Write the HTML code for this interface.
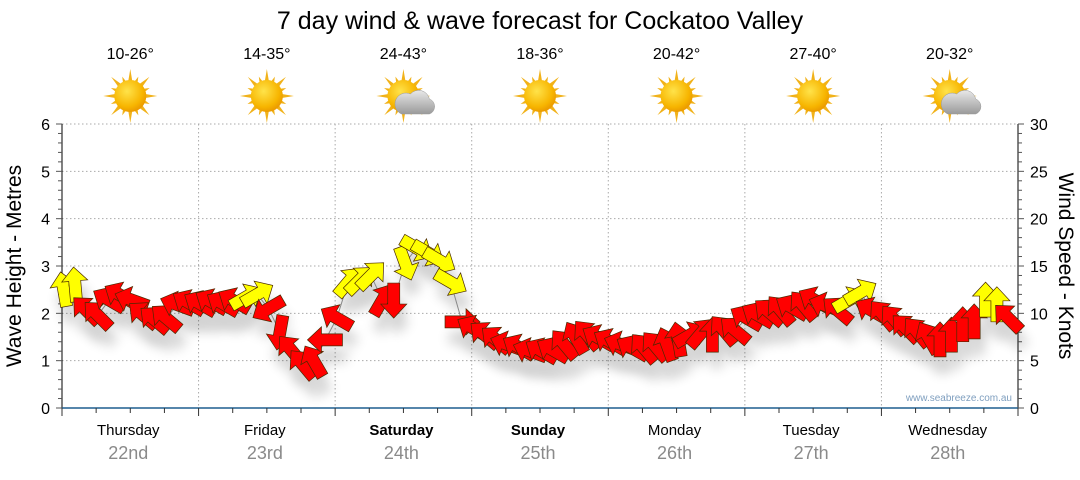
<!DOCTYPE html>
<html><head><meta charset="utf-8"><style>
body{margin:0;background:#fff;font-family:"Liberation Sans",sans-serif}
svg text{font-family:"Liberation Sans",sans-serif}
</style></head><body>
<svg id="c" width="1080" height="475" viewBox="0 0 1080 475">
<defs>
<radialGradient id="sg" cx="0.4" cy="0.35" r="0.7"><stop offset="0" stop-color="#ffe34a"/><stop offset="0.7" stop-color="#f7b500"/><stop offset="1" stop-color="#e89400"/></radialGradient>
<linearGradient id="cg" x1="0" y1="0" x2="0" y2="1"><stop offset="0" stop-color="#e8e8e8"/><stop offset="1" stop-color="#9a9a9a"/></linearGradient>
<filter id="sh" x="-50%" y="-50%" width="200%" height="200%"><feGaussianBlur stdDeviation="6"/></filter>
</defs>
<text x="540" y="29" font-size="25" text-anchor="middle" fill="#000">7 day wind &amp; wave forecast for Cockatoo Valley</text>
<g id="grid"></g>
<g id="icons"></g>
<g id="shadows" opacity="0.18"></g>
<polyline id="trend" fill="none" stroke="#888" stroke-width="1"/>
<g id="arrows"></g>
<text x="1012" y="401" font-size="10" text-anchor="end" fill="#7f9fbf">www.seabreeze.com.au</text>
<text transform="translate(21,266) rotate(-90)" font-size="21" text-anchor="middle">Wave Height - Metres</text>
<text transform="translate(1059,266) rotate(90)" font-size="21" text-anchor="middle">Wind Speed - Knots</text>
</svg>
<script>
const days=["Thursday","Friday","Saturday","Sunday","Monday","Tuesday","Wednesday"];
const dates=["22nd","23rd","24th","25th","26th","27th","28th"];
const temps=["10-26°","14-35°","24-43°","18-36°","20-42°","27-40°","20-32°"];
const cloudy=[false,false,true,false,false,false,true];
const boldDays=[false,false,true,true,false,false,false];
const leftTicks=[0,1,2,3,4,5,6];
const rightTicks=[0,5,10,15,20,25,30];
// 2-hourly wind speed (knots)
const knots=[12.5,13.0,10.3,9.8,11.4,11.9,11.4,9.8,9.3,9.5,10.9,11.1,
 11.0,11.2,11.0,11.3,11.7,12.0,10.5,8.0,6.1,4.6,4.9,7.2,
 9.5,13.3,13.5,14.0,11.4,11.4,15.3,16.9,16.4,15.6,13.3,9.1,
 8.4,7.7,7.2,6.7,6.4,6.0,6.0,6.1,6.7,7.4,7.7,7.4,
 7.0,6.7,6.3,6.3,6.5,6.7,7.2,7.7,7.9,7.7,8.2,8.2,
 9.5,9.8,10.1,10.3,10.6,10.8,11.4,10.8,10.3,11.4,12.2,10.3,
 9.8,9.3,8.4,8.0,7.4,7.2,7.7,8.8,9.1,11.4,10.9,9.5];
// direction arrow points toward (deg, 0=up)
const dirs=[350,355,315,315,300,300,290,310,310,310,290,300,
 300,300,300,300,60,60,240,190,320,320,330,270,
 300,40,45,45,30,180,160,120,120,120,120,90,
 300,310,310,290,300,290,300,300,320,330,320,300,
 300,290,300,320,320,340,350,60,40,0,320,310,
 300,300,310,320,300,320,300,290,310,60,60,300,
 320,320,315,320,330,0,0,0,0,0,0,315];
const colors=["y","y","r","r","r","r","r","r","r","r","r","r",
 "r","r","r","r","y","y","r","r","r","r","r","r",
 "r","y","y","y","r","r","y","y","y","y","y","r",
 "r","r","r","r","r","r","r","r","r","r","r","r",
 "r","r","r","r","r","r","r","r","r","r","r","r",
 "r","r","r","r","r","r","r","r","r","y","y","r",
 "r","r","r","r","r","r","r","r","r","y","y","r"];
const NS="http://www.w3.org/2000/svg";
const X0=62,X1=1018,Y0=408,Y1=124,DW=(X1-X0)/7;
const xHour=h=>X0+DW*h/24;
const yM=m=>Y0-(Y0-Y1)*m/6;
const yK=k=>Y0-(Y0-Y1)*k/30;
function mk(tag,attrs,parent){const e=document.createElementNS(NS,tag);for(const k in attrs)e.setAttribute(k,attrs[k]);parent.appendChild(e);return e;}
const grid=document.getElementById('grid');
for(let m=1;m<=6;m++){const l=mk('line',{x1:X0,x2:X1,y1:yM(m),y2:yM(m),stroke:'#aaa','stroke-dasharray':'1.5,2.5'},grid);

}
for(let d=1;d<7;d++){const l=mk('line',{x1:X0+DW*d,x2:X0+DW*d,y1:Y1,y2:Y0,stroke:'#aaa','stroke-dasharray':'1.5,2.5'},grid);

}
mk('line',{x1:X0,x2:X0,y1:Y1,y2:Y0,stroke:'#000'},grid);
mk('line',{x1:X1,x2:X1,y1:Y1,y2:Y0,stroke:'#000'},grid);
mk('line',{x1:X0,x2:X1,y1:Y0,y2:Y0,stroke:'#1f5f8f','stroke-width':1.5},grid);
for(let i=0;i<=30;i++){const y=Y0-(Y0-Y1)*i/30;const big=i%5==0;
mk('line',{x1:X0-(big?6:4),x2:X0,y1:y,y2:y,stroke:'#555'},grid);
mk('line',{x1:X1,x2:X1+(big?6:4),y1:y,y2:y,stroke:'#555'},grid);}
leftTicks.forEach(v=>{const t=mk('text',{x:X0-12,y:yM(v)+6,'font-size':16,'text-anchor':'end'},grid);t.textContent=v;

});
rightTicks.forEach(v=>{const t=mk('text',{x:X1+12,y:yK(v)+6,'font-size':16},grid);t.textContent=v;

});
for(let q=0;q<=28;q++){const x=X0+DW*q/4;mk('line',{x1:x,x2:x,y1:Y0,y2:Y0+(q%4==0?8:5),stroke:'#333'},grid);}
const icons=document.getElementById('icons');
days.forEach((d,i)=>{const cx=X0+DW*(i+0.5)-2;
const t=mk('text',{x:cx,y:435,'font-size':15,'text-anchor':'middle','font-weight':boldDays[i]?'bold':'normal'},grid);t.textContent=d;


const t2=mk('text',{x:cx,y:459,'font-size':18,'text-anchor':'middle',fill:'#8a8a8a'},grid);t2.textContent=dates[i];


const t3=mk('text',{x:cx+2,y:59,'font-size':16,'text-anchor':'middle'},icons);t3.textContent=temps[i];


const g=mk('g',{transform:`translate(${cx+2},96)`},icons);


for(let a=0;a<16;a++){const L=a%2?21:27;mk('polygon',{points:`-2.5,-12 2.5,-12 0,-${L}`,fill:'#f1b21a',transform:`rotate(${a*22.5})`},g);}
mk('circle',{r:16,fill:'url(#sg)'},g);
if(cloudy[i]){mk('path',{d:'M-2,18 h28 a8,8 0 0 0 0,-15 a11,11 0 0 0 -19,-5 a8,8 0 0 0 -9,20 z',fill:'url(#cg)',stroke:'#999','stroke-width':0.5},g);}
});
const arrows=document.getElementById('arrows'),shadows=document.getElementById('shadows');
const shape='M0,-18 L13,-4 L6,-4 L6,17 L-6,17 L-6,-4 L-13,-4 Z';
const pts=[];
knots.forEach((k,i)=>{const x=xHour(i*2+1)-4,y=yK(k);pts.push(x+','+y);
mk('path',{d:shape,transform:`translate(${x+4},${y+16}) rotate(${dirs[i]})`,fill:'#000',filter:'url(#sh)'},shadows);
const a=mk('path',{d:shape,transform:`translate(${x},${y}) rotate(${dirs[i]})`,fill:colors[i]=='y'?'#ffff00':'#ff0000',stroke:'#4a2a00','stroke-width':0.7},arrows);

});
document.getElementById('trend').setAttribute('points',pts.join(' '));
</script>
</body></html>
